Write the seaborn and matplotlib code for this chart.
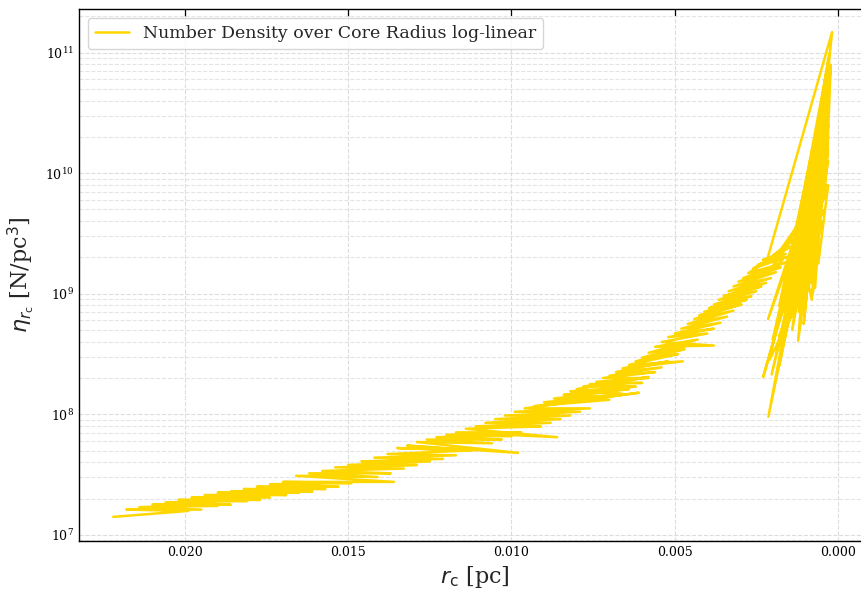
import numpy as np
import pandas as pd
import matplotlib
matplotlib.use("Agg")
import matplotlib.pyplot as plt
import seaborn as sns

# Core radius [pc] and number density inside it [N/pc^3], in time order
core_radius = [
    # slow contraction phase
    0.0222, 0.0199, 0.0218, 0.0195, 0.0214, 0.0190, 0.0210, 0.0186, 0.0206, 0.0181,
    0.0202, 0.0177, 0.0198, 0.0174, 0.0194, 0.0169, 0.0190, 0.0165, 0.0186, 0.0161,
    0.0182, 0.0157, 0.0178, 0.0153, 0.0174, 0.0149, 0.0170, 0.0136, 0.0166, 0.0141,
    0.0162, 0.0137, 0.0158, 0.0133, 0.0154, 0.0129, 0.0150, 0.0125, 0.0146, 0.0121,
    0.0142, 0.0117, 0.0138, 0.0113, 0.0135, 0.0112, 0.0132, 0.0098, 0.0129, 0.0106,
    0.0126, 0.0103, 0.0123, 0.0100, 0.0120, 0.0097, 0.0117, 0.0086, 0.0114, 0.0091,
    0.0111, 0.0088, 0.0108, 0.0085, 0.0105, 0.0082, 0.0102, 0.0079, 0.0099, 0.0076,
    0.0096, 0.0061, 0.0093, 0.0070, 0.0090, 0.0067, 0.0087, 0.0064, 0.0084, 0.0062,
    0.0082, 0.0066, 0.0080, 0.0058, 0.0078, 0.0062, 0.0076, 0.0060, 0.0074, 0.0058,
    0.0072, 0.0056, 0.0070, 0.0054, 0.0068, 0.0052, 0.0066, 0.00475, 0.0064, 0.0049,
    0.0062, 0.0047, 0.0060, 0.0045, 0.0058, 0.0043, 0.0056, 0.0038, 0.0054, 0.0040,
    0.0052, 0.0038, 0.0050, 0.0036, 0.0048, 0.0034, 0.0046, 0.0032, 0.0044, 0.0030,
    0.00425, 0.00295, 0.0041, 0.0028, 0.00395, 0.00265, 0.0038, 0.0025, 0.00365, 0.00235,
    0.0035, 0.0022, 0.00335, 0.00205, 0.0032, 0.0019, 0.00305, 0.00175, 0.0029, 0.0016,
    0.00275, 0.00147, 0.0026, 0.0015, 0.00245, 0.0016, 0.0023, 0.0017,
    # core collapse phase
    0.0017, 0.0021, 0.0014, 0.0019, 0.0011, 0.0016, 0.00217, 0.00018,
    0.00045, 0.00213, 0.0007, 0.0015, 0.0004, 0.0012, 0.00126, 0.00034, 0.0008, 0.00229,
    0.0009, 0.0005, 0.00203, 0.0006, 0.0013, 0.0003, 0.0010, 0.00122, 0.0005, 0.0003,
    0.00077, 0.0004, 0.00214, 0.0008, 0.0010, 0.00025, 0.0009, 0.00147, 0.0005, 0.00035,
    0.0011, 0.0019, 0.0006, 0.0003, 0.0013, 0.0004, 0.00028, 0.0007, 0.0004, 0.0008,
    0.0018, 0.0009, 0.0004, 0.0003, 0.0006, 0.0012, 0.00035, 0.00022, 0.0003, 0.0017,
    0.0003, 0.0009, 0.0005, 0.0014, 0.0004, 0.0011, 0.0006, 0.0003, 0.0009, 0.0005,
    0.0012, 0.0007, 0.0004, 0.0015, 0.0006, 0.0010, 0.0003, 0.0007, 0.0016, 0.0008,
    0.0004, 0.0008, 0.0011, 0.0021, 0.0007, 0.0003, 0.0018, 0.0009, 0.0020, 0.0010,
    0.00165, 0.0004, 0.0014, 0.0008, 0.0012, 0.00035, 0.0008, 0.0013, 0.0018, 0.0006,
    0.00105, 0.0004, 0.0015, 0.0007, 0.0003, 0.00025,
]

number_density = [
    # slow contraction phase
    1.41e7, 1.58e7, 1.62e7, 1.62e7, 1.70e7, 1.74e7, 1.78e7, 1.78e7, 1.86e7, 1.91e7,
    1.95e7, 1.95e7, 2.04e7, 2.04e7, 2.14e7, 2.14e7, 2.24e7, 2.24e7, 2.29e7, 2.29e7,
    2.40e7, 2.40e7, 2.51e7, 2.51e7, 2.63e7, 2.69e7, 2.75e7, 2.75e7, 3.09e7, 3.02e7,
    3.24e7, 3.24e7, 3.39e7, 3.55e7, 3.63e7, 3.80e7, 3.80e7, 4.07e7, 4.07e7, 4.27e7,
    4.37e7, 4.57e7, 4.68e7, 5.01e7, 5.25e7, 5.01e7, 5.50e7, 4.79e7, 5.89e7, 5.75e7,
    6.17e7, 6.17e7, 6.46e7, 6.61e7, 6.76e7, 7.08e7, 7.08e7, 6.46e7, 7.59e7, 7.94e7,
    7.94e7, 8.51e7, 8.51e7, 9.12e7, 9.12e7, 9.77e7, 9.77e7, 1.05e8, 1.05e8, 1.12e8,
    1.12e8, 1.51e8, 1.17e8, 1.32e8, 1.26e8, 1.45e8, 1.35e8, 1.62e8, 1.45e8, 1.70e8,
    1.55e8, 1.48e8, 1.62e8, 2.04e8, 1.70e8, 1.70e8, 1.78e8, 1.82e8, 1.86e8, 2.00e8,
    2.00e8, 2.24e8, 2.09e8, 2.45e8, 2.24e8, 2.75e8, 2.40e8, 2.75e8, 2.57e8, 3.16e8,
    2.75e8, 3.47e8, 2.95e8, 3.80e8, 3.24e8, 4.17e8, 3.63e8, 3.72e8, 3.98e8, 4.68e8,
    4.37e8, 5.13e8, 4.68e8, 5.75e8, 5.13e8, 6.46e8, 5.62e8, 7.24e8, 6.17e8, 8.13e8,
    6.61e8, 8.13e8, 7.08e8, 8.91e8, 7.59e8, 9.55e8, 8.13e8, 1.05e9, 8.91e8, 1.15e9,
    9.55e8, 1.23e9, 1.05e9, 1.35e9, 1.15e9, 1.51e9, 1.26e9, 1.66e9, 1.35e9, 1.82e9,
    1.48e9, 2.45e9, 1.62e9, 2.04e9, 1.74e9, 2.14e9, 1.91e9, 2.04e9,
    # core collapse phase
    1.91e9, 1.55e9, 2.82e9, 2.04e9, 4.17e9, 2.51e9, 1.91e9, 1.48e11,
    2.82e10, 9.55e7, 7.08e9, 8.91e8, 3.55e10, 1.58e9, 3.39e9, 7.24e10, 5.62e9, 2.04e8,
    3.98e9, 1.58e10, 2.14e8, 7.94e9, 1.26e9, 4.47e10, 2.24e9, 4.07e8, 1.00e10, 2.51e10,
    1.02e9, 1.26e10, 6.17e8, 7.94e9, 1.58e9, 5.62e10, 5.01e9, 6.46e8, 7.08e9, 2.00e10,
    1.00e9, 3.55e8, 3.16e9, 1.58e10, 2.24e9, 6.31e9, 8.91e10, 1.26e10, 2.51e10, 2.00e9,
    4.47e8, 1.78e9, 8.91e9, 2.00e10, 5.01e9, 2.82e9, 1.00e10, 7.94e10, 3.98e10, 1.00e9,
    1.26e10, 1.12e9, 3.98e9, 1.58e9, 5.01e9, 3.55e9, 1.78e9, 7.94e9, 7.94e9, 2.00e10,
    2.00e9, 1.12e9, 1.58e10, 1.26e9, 4.47e9, 7.08e9, 3.16e10, 2.51e9, 5.01e8, 3.16e9,
    3.98e10, 1.12e10, 3.98e9, 2.82e8, 1.58e9, 6.31e10, 7.94e8, 2.82e9, 4.17e8, 6.31e9,
    1.00e9, 1.41e10, 5.01e8, 1.00e10, 7.08e8, 5.01e10, 8.91e8, 3.55e9, 2.51e8, 8.91e9,
    5.62e8, 2.82e10, 1.78e9, 1.78e10, 8.91e10, 1.00e11,
]

series_label = "Number Density over Core Radius log-linear"
x_ticks = [0.020, 0.015, 0.010, 0.005, 0.000]
x_tick_labels = ["0.020", "0.015", "0.010", "0.005", "0.000"]

df = pd.DataFrame({"r": core_radius, "n": number_density})

sns.set_theme(style="white")
plt.rcParams["font.family"] = ["DejaVu Serif"]
plt.rcParams["mathtext.fontset"] = "dejavusans"

fig = plt.figure(figsize=(8.62, 5.90), dpi=100)
ax = fig.add_axes([0.0916, 0.0831, 0.9176, 0.9016])

sns.lineplot(data=df, x="r", y="n", sort=False, estimator=None,
             color="#FFD700", linewidth=1.8, label=series_label, ax=ax)

ax.set_yscale("log")
ax.set_xlim(0.02325, -0.00098)
ax.set_ylim(8.9e6, 2.3e11)
ax.set_xticks(x_ticks)
ax.set_xticklabels(x_tick_labels)

ax.grid(True, which="major", linestyle="--", color="#dcdcdc", linewidth=0.8)
ax.grid(True, which="minor", axis="y", linestyle="--", color="#e4e4e4", linewidth=0.8)
ax.set_axisbelow(True)

ax.tick_params(which="both", direction="in", top=True, right=True,
               labelsize=9, colors="black")
ax.tick_params(which="major", length=5, width=0.9)
ax.tick_params(which="minor", length=3, width=0.7)
for side in ["left", "bottom", "top", "right"]:
    ax.spines[side].set_color("black")
    ax.spines[side].set_linewidth(1.0)

ax.set_xlabel(r"$r_\mathrm{c}$ [pc]", fontsize=16, labelpad=4)
ax.set_ylabel(r"$\eta_{r_\mathrm{c}}$ [N/pc$^3$]", fontsize=16, labelpad=6)

leg = ax.legend(loc="upper left", fontsize=12.5, frameon=True, fancybox=True,
                handlelength=2.0, borderpad=0.4)
leg.get_frame().set_edgecolor("#cccccc")
leg.get_frame().set_linewidth(1.0)

fig.savefig("out.png", dpi=100)
